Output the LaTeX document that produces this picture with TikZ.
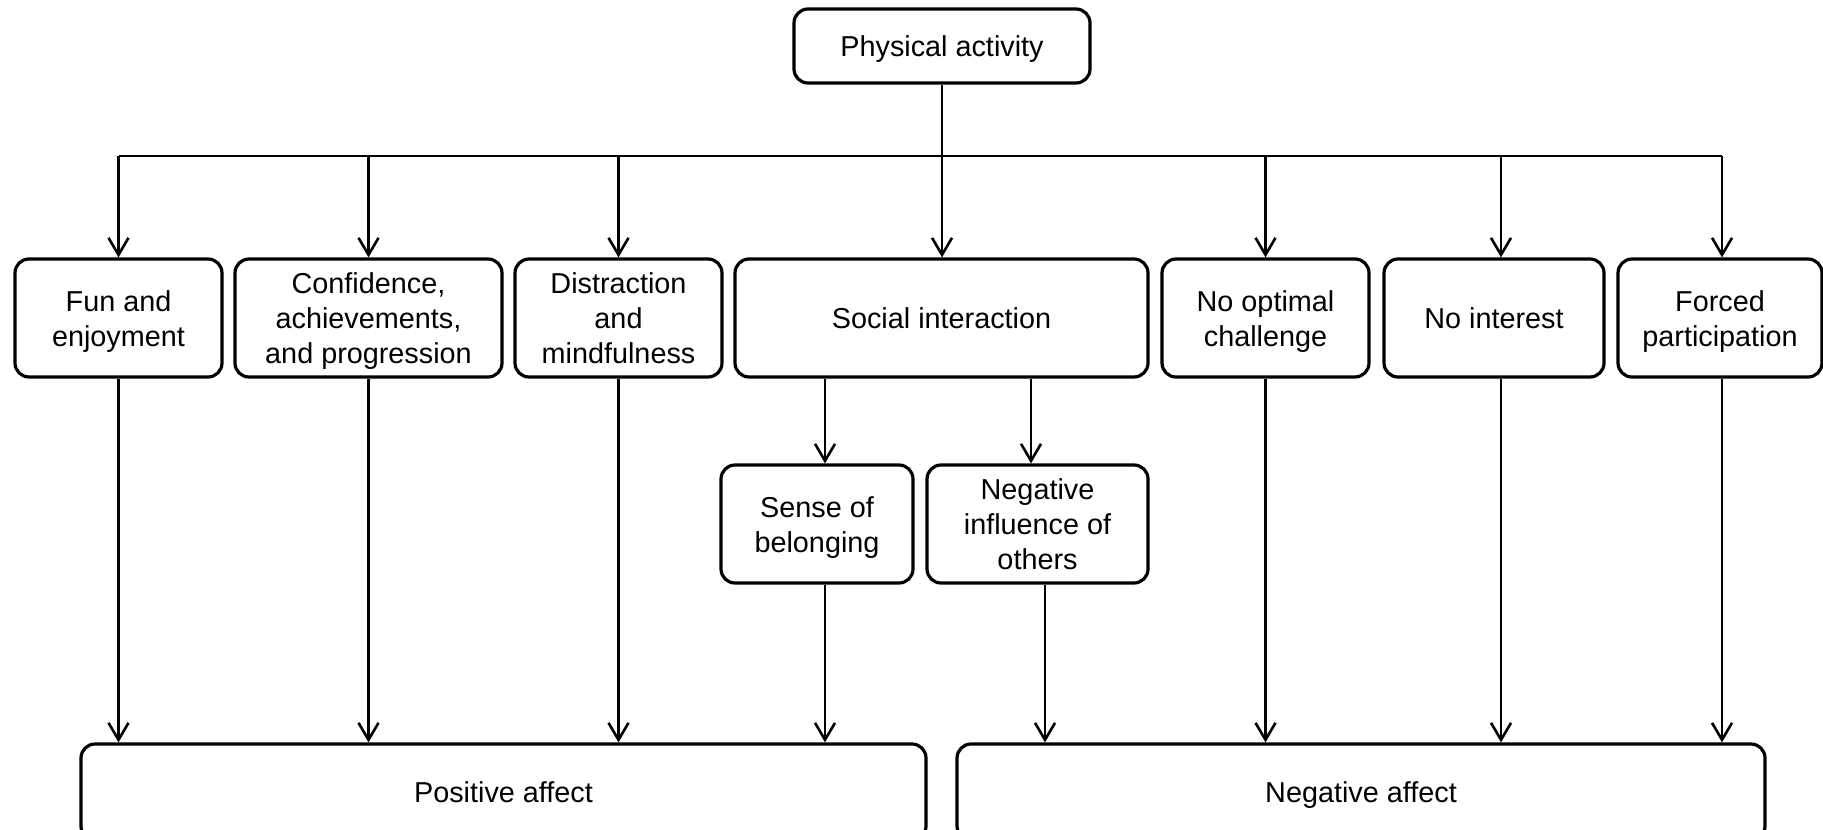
\documentclass[tikz,border=0pt]{standalone}
\usepackage{fontspec}
\setmainfont{Liberation Sans}
\usetikzlibrary{arrows.meta}
% struts that fix the extent of the first and the last text line,
% so that each label sits centred on its line boxes
\newcommand\topstrut{\rule{0pt}{15.9pt}}
\newcommand\botstrut{\rule[-5pt]{0pt}{5pt}}
\newcommand\oneline[1]{\topstrut#1\botstrut}
\begin{document}
\begin{tikzpicture}[x=0.5pt,y=-0.5pt,
  box/.style={draw, line width=1.6pt, rounded corners=7pt, align=center,
    inner sep=0pt, font=\fontsize{14.4}{17.5}\selectfont},
  rowbox/.style={box, minimum height=59pt},
  basebox/.style={box, minimum height=48pt},
  conn/.style={line width=1.3pt},
  arr/.style={conn, -{Straight Barb[length=8.5pt,width=10pt,line width=1.3pt]}}]
\useasboundingbox (0,0) rectangle (1823,829);
\clip (0,0) rectangle (1823,829);

% root
\node[box, minimum width=148pt, minimum height=37pt] (pa) at (942,46) {\oneline{Physical activity}};

% first level
\node[rowbox, minimum width=103.5pt] (fun)    at (118.5,318)  {\topstrut Fun and\\enjoyment\botstrut};
\node[rowbox, minimum width=133.5pt] (conf)   at (368.5,318)  {\topstrut Confidence,\\achievements,\\and progression\botstrut};
\node[rowbox, minimum width=103.5pt] (dist)   at (618.5,318)  {\topstrut Distraction\\and\\mindfulness\botstrut};
\node[rowbox, minimum width=206.5pt] (soc)    at (941.5,318)  {\oneline{Social interaction}};
\node[rowbox, minimum width=103.5pt] (noopt)  at (1265.5,318) {\topstrut No optimal\\challenge\botstrut};
\node[rowbox, minimum width=110pt]   (noint)  at (1494,318)   {\oneline{No interest}};
\node[rowbox, minimum width=102pt]   (forced) at (1720,318)   {\topstrut Forced\\participation\botstrut};

% second level under social interaction
\node[rowbox, minimum width=96pt]    (sense)  at (817,524)    {\topstrut Sense of\\belonging\botstrut};
\node[rowbox, minimum width=110.5pt] (neginf) at (1037.5,524) {\topstrut Negative\\influence of\\others\botstrut};

% outcomes
\node[basebox, minimum width=422.5pt] (pos) at (503.5,792) {\oneline{Positive affect}};
\node[basebox, minimum width=404pt]   (neg) at (1361,792)  {\oneline{Negative affect}};

% distribution bar
\coordinate (bar) at (942,156);
\draw[conn] (pa.south) -- (bar);
\draw[conn] (fun.north |- bar) -- ([xshift=1pt]forced.north |- bar);
\draw[arr] (fun.north |- bar) -- (fun.north);
\draw[arr] (conf.north |- bar) -- (conf.north);
\draw[arr] (dist.north |- bar) -- (dist.north);
\draw[arr] (bar) -- (bar |- soc.north);
\draw[arr] (noopt.north |- bar) -- (noopt.north);
\draw[arr] ([xshift=3.5pt]noint.north |- bar) -- ([xshift=3.5pt]noint.north);
\draw[arr] ([xshift=1pt]forced.north |- bar) -- ([xshift=1pt]forced.north);

% social interaction branches
\draw[arr] ([xshift=4pt]sense.north |- soc.south) -- ([xshift=4pt]sense.north);
\draw[arr] ([xshift=-3.25pt]neginf.north |- soc.south) -- ([xshift=-3.25pt]neginf.north);

% into positive affect
\draw[arr] (fun.south) -- (fun.south |- pos.north);
\draw[arr] (conf.south) -- (conf.south |- pos.north);
\draw[arr] (dist.south) -- (dist.south |- pos.north);
\draw[arr] ([xshift=4pt]sense.south) -- ([xshift=4pt]sense.south |- pos.north);

% into negative affect
\draw[arr] ([xshift=3.75pt]neginf.south) -- ([xshift=3.75pt]neginf.south |- neg.north);
\draw[arr] (noopt.south) -- (noopt.south |- neg.north);
\draw[arr] ([xshift=3.5pt]noint.south) -- ([xshift=3.5pt]noint.south |- neg.north);
\draw[arr] ([xshift=1pt]forced.south) -- ([xshift=1pt]forced.south |- neg.north);
\end{tikzpicture}
\end{document}
